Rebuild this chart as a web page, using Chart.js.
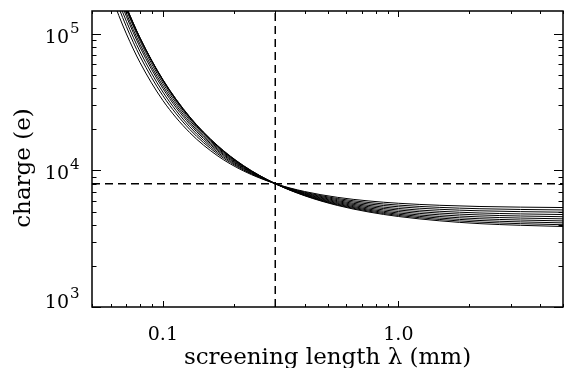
<!DOCTYPE html>
<html lang="en">
<head>
<meta charset="UTF-8">
<title>Charge vs screening length</title>
<script src="https://cdn.jsdelivr.net/npm/chart.js@4.4.0/dist/chart.umd.min.js"></script>
<style>
  html, body { margin: 0; padding: 0; background: #fff; }
</style>
</head>
<body>
<canvas id="chart" width="564" height="368"></canvas>
<script>
// screening length (mm) at which each curve was read
var lambdaMM = [0.06, 0.065, 0.07, 0.08, 0.1, 0.13, 0.17, 0.22, 0.3, 0.4, 0.55, 0.75, 1.0, 1.5, 2.2, 3.3, 5.0];

// charge (e), one array per curve, lowest plateau first
var charge0 = [299100, 207400, 152000, 92060, 46120, 24700, 15320, 10850, 8000, 6524, 5546, 4957, 4599, 4275, 4080, 3964, 3885];
var charge1 = [312400, 214500, 155800, 93310, 46180, 24580, 15230, 10800, 8000, 6554, 5600, 5028, 4682, 4372, 4185, 4076, 4002];
var charge2 = [320800, 218300, 157500, 93470, 45850, 24320, 15080, 10740, 8000, 6590, 5663, 5110, 4776, 4479, 4302, 4199, 4130];
var charge3 = [323700, 218700, 157000, 92520, 45130, 23940, 14900, 10670, 8000, 6631, 5735, 5201, 4880, 4597, 4430, 4334, 4269];
var charge4 = [309200, 208800, 149980, 88590, 43470, 23260, 14620, 10565, 8000, 6683, 5820, 5307, 5000, 4730, 4571, 4480, 4420];
var charge5 = [290000, 196300, 141200, 83810, 41540, 22500, 14310, 10450, 8000, 6739, 5913, 5422, 5129, 4872, 4723, 4638, 4582];
var charge6 = [275100, 186100, 134000, 79750, 39790, 21780, 14020, 10340, 8000, 6796, 6009, 5542, 5264, 5022, 4882, 4804, 4753];
var charge7 = [251200, 170700, 123450, 74050, 37500, 20880, 13650, 10200, 8000, 6864, 6118, 5679, 5418, 5192, 5063, 4991, 4944];
var charge8 = [227100, 155150, 112800, 68370, 35220, 19980, 13280, 10070, 8000, 6931, 6230, 5817, 5573, 5363, 5244, 5178, 5136];
var charge9 = [197000, 136100, 99900, 61550, 32520, 18930, 12860, 9910, 8000, 7007, 6355, 5973, 5747, 5554, 5446, 5386, 5349];

// dashed guide lines
var markLambda = 0.3;
var markCharge = 8000;

// axis ranges and labels
var xRange = [0.05, 5];
var yRange = [1000, 147000];
var xTickValues = [0.1, 1.0];
var xTickLabels = ["0.1", "1.0"];
var yTickValues = [1000, 10000, 100000];
var yTickExponents = ["3", "4", "5"];

var serif = '"DejaVu Serif", "Liberation Serif", serif';

var curves = [charge0, charge1, charge2, charge3, charge4, charge5, charge6, charge7, charge8, charge9];

var datasets = curves.map(function(c) {
	return {
		data: lambdaMM.map(function(l, i) { return { x: l, y: c[i] }; }),
		borderColor: '#000',
		borderWidth: 1,
		pointRadius: 0,
		fill: false,
		cubicInterpolationMode: 'monotone'
	};
});

datasets.push({
	data: [{ x: markLambda, y: yRange[0] }, { x: markLambda, y: yRange[1] }],
	borderColor: '#000', borderWidth: 1.5, borderDash: [8, 5], pointRadius: 0
});
datasets.push({
	data: [{ x: xRange[0], y: markCharge }, { x: xRange[1], y: markCharge }],
	borderColor: '#000', borderWidth: 1.5, borderDash: [8, 5], pointRadius: 0
});

// box, inward ticks on all sides, labels and titles
var frame = {
	id: 'frame',
	afterDatasetsDraw: function(chart) {
		var ctx = chart.ctx, a = chart.chartArea;
		var xs = chart.scales.x, ys = chart.scales.y;
		ctx.save();
		ctx.strokeStyle = '#000';
		ctx.fillStyle = '#000';

		ctx.lineWidth = 1;
		ctx.beginPath();
		for (var d = 0.01; d < 100; d *= 10) {
			for (var k = 1; k <= 9; k++) {
				var v = k * d;
				if (v < xRange[0] * 0.999 || v > xRange[1] * 1.001) continue;
				var px = Math.round(xs.getPixelForValue(v)) + 0.5;
				var len = (k == 1) ? 6 : 3;
				ctx.moveTo(px, a.bottom); ctx.lineTo(px, a.bottom - len);
				ctx.moveTo(px, a.top); ctx.lineTo(px, a.top + len);
			}
		}
		for (var d2 = 100; d2 < 1e6; d2 *= 10) {
			for (var k2 = 1; k2 <= 9; k2++) {
				var w = k2 * d2;
				if (w < yRange[0] * 0.999 || w > yRange[1] * 1.001) continue;
				var py = Math.round(ys.getPixelForValue(w)) + 0.5;
				var len2 = (k2 == 1) ? 9 : 4.5;
				ctx.moveTo(a.left, py); ctx.lineTo(a.left + len2, py);
				ctx.moveTo(a.right, py); ctx.lineTo(a.right - len2, py);
			}
		}
		ctx.stroke();

		ctx.lineWidth = 1.5;
		ctx.strokeRect(a.left, a.top, a.right - a.left, a.bottom - a.top);

		ctx.font = '19px ' + serif;
		ctx.textAlign = 'center';
		ctx.textBaseline = 'alphabetic';
		xTickValues.forEach(function(v, i) {
			ctx.fillText(xTickLabels[i], xs.getPixelForValue(v), a.bottom + 33);
		});

		yTickValues.forEach(function(v, i) {
			var py = ys.getPixelForValue(v);
			var base = (i == 0) ? py + 1 : py + 9;
			ctx.font = '19px ' + serif;
			ctx.textAlign = 'right';
			ctx.fillText('10', 69, base);
			ctx.font = '15px ' + serif;
			ctx.textAlign = 'left';
			ctx.fillText(yTickExponents[i], 70, base - 10);
		});

		ctx.font = '23px ' + serif;
		ctx.textAlign = 'center';
		ctx.fillText('screening length \u03bb (mm)', (a.left + a.right) / 2, 364);

		ctx.save();
		ctx.translate(30, 168);
		ctx.rotate(-Math.PI / 2);
		ctx.fillText('charge (e)', 0, 0);
		ctx.restore();

		ctx.restore();
	}
};

new Chart(document.getElementById('chart'), {
	type: 'line',
	data: { datasets: datasets },
	options: {
		responsive: false,
		animation: false,
		devicePixelRatio: 1,
		layout: { padding: { left: 92, top: 11, right: 1, bottom: 61 } },
		plugins: { legend: { display: false }, tooltip: { enabled: false } },
		scales: {
			x: { type: 'logarithmic', min: xRange[0], max: xRange[1], display: false },
			y: { type: 'logarithmic', min: yRange[0], max: yRange[1], display: false }
		}
	},
	plugins: [frame]
});
</script>
</body>
</html>
